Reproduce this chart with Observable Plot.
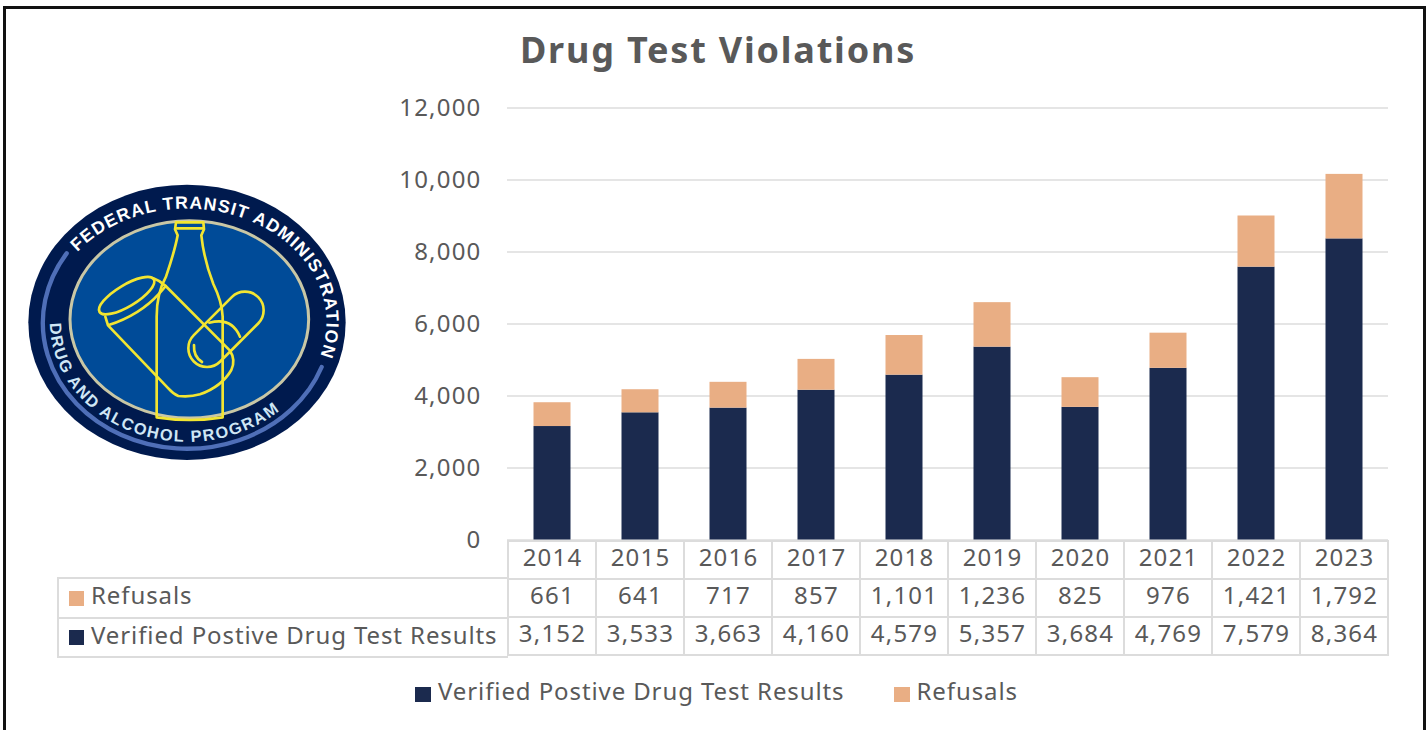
<!DOCTYPE html>
<html>
<head>
<meta charset="utf-8">
<script src="https://cdn.jsdelivr.net/npm/d3@7"></script>
<script src="https://cdn.jsdelivr.net/npm/@observablehq/plot@0.6"></script>
<style>
  html,body{margin:0;padding:0;background:#fff;overflow:hidden}
  #page{position:relative;width:1427px;height:730px;overflow:hidden;font-family:"Noto Sans",sans-serif;color:#595959}
  #border{position:absolute;left:3px;top:6px;width:1417px;height:800px;border:3px solid #111}
  #title{position:absolute;left:0;width:1436px;top:25px;text-align:center;font-size:36px;font-weight:700;line-height:50px;letter-spacing:1.8px}
  #chart,#table{position:absolute;left:0}
  #chart{top:0}
  #table{top:539px}
  #rowhead{position:absolute;left:57px;top:577px;width:449px;height:77px;border:2px solid #dcdcdc;border-right:none;box-sizing:content-box}
  .rh{height:38px;font-size:24px;letter-spacing:.9px;display:flex;align-items:center;padding-left:10px;white-space:nowrap;box-sizing:border-box}
  .rh span:last-child{position:relative;top:-3.5px}
  .rh+.rh{border-top:2px solid #dcdcdc;height:39px}
  .sw{display:inline-block;width:15px;height:15px;margin-right:7px;flex:none}
  #legend{position:absolute;top:673px;left:415px;display:flex;align-items:center;font-size:24px;letter-spacing:.9px;line-height:36px;white-space:nowrap}
  #legend .sw{width:16px;height:15px;position:relative;top:3px}
  svg text{font-family:"Noto Sans",sans-serif;letter-spacing:1.2px}
  #logo #t1{letter-spacing:3.5px}
  #logo #t2{letter-spacing:5px}
</style>
</head>
<body>
<div id="page">
  <div id="border"></div>
  <div id="chart"></div>
  <div id="title">Drug Test Violations</div>
  <svg id="logo" style="position:absolute;left:0;top:160px" width="370" height="320" viewBox="0 0 1110 960">
    <defs>
      <path id="topArc" d="M 232,276 A 418 340 0 0 1 890,696"/>
      <path id="botArc" d="M 150,490 A 411 358 0 0 0 900,690"/>
    </defs>
    <ellipse cx="561" cy="487" rx="476" ry="413" fill="#001a4e"/>
    <path d="M 200,280 A 432 378 0 1 0 965,621" fill="none" stroke="#4f6fb8" stroke-width="13" stroke-linecap="round"/>
    <ellipse cx="568" cy="478" rx="358" ry="296" fill="#004b98" stroke="#c9c7a5" stroke-width="9"/>
    <text id="t1" font-size="53" font-weight="700" fill="#fff" style="font-family:'Liberation Sans',sans-serif"><textPath href="#topArc">FEDERAL TRANSIT ADMINISTRATION</textPath></text>
    <text id="t2" font-size="49" font-weight="700" fill="#cfe6f5" style="font-family:'Liberation Sans',sans-serif"><textPath href="#botArc">DRUG AND ALCOHOL PROGRAM</textPath></text>
    <g fill="none" stroke="#f2e531" stroke-width="8" stroke-linejoin="round" stroke-linecap="round">
      <path d="M528,187 L610,187 L612,208 L604,226 Q612,300 640,372 Q666,425 668,470 L668,772 Q570,788 470,772 L470,470 Q470,400 498,350 Q525,270 533,226 L525,208 Z"/>
      <path d="M530,205 L608,205"/>
      <ellipse cx="380" cy="407" rx="95" ry="32" transform="rotate(-31 380 407)"/>
      <path d="M316,470 L324,496 Q420,465 478,400 Q492,385 497,378 L690,572 Q708,600 694,630 Q665,680 600,703 Q570,712 535,708 Q520,702 505,685 L324,496"/>
      <path d="M460,355 Q480,362 497,378"/>
      <rect x="541.5" y="452" width="273" height="112" rx="56" transform="rotate(-45 678 508)"/>
      <path d="M628,488 Q695,470 720,530"/>
      <path d="M582,555 Q580,590 606,606"/>
    </g>
  </svg>
  <div id="table"></div>
  <div id="rowhead"></div>
  <div id="legend"></div>
</div>
<script>
const years = ["2014","2015","2016","2017","2018","2019","2020","2021","2022","2023"];
const refusals = [661,641,717,857,1101,1236,825,976,1421,1792];
const verified = [3152,3533,3663,4160,4579,5357,3684,4769,7579,8364];
const verifiedName = "Verified Postive Drug Test Results";
const refusalsName = "Refusals";
const yTicks = [0,2000,4000,6000,8000,10000,12000];
const navy = "#1b2a4e", peach = "#e9ae84", grid = "#dcdcdc", ink = "#595959";

const long = years.flatMap((year,i)=>[
  {year, series: verifiedName, value: verified[i]},
  {year, series: refusalsName, value: refusals[i]}
]);

const fmt = d3.format(",");
const chart = Plot.plot({
  width: 1427, height: 540,
  marginLeft: 507, marginRight: 39, marginTop: 107.5, marginBottom: 0.5,
  style: {background:"transparent", overflow:"visible"},
  x: {domain: years, padding: 0, axis: null},
  y: {domain: [0,12000], axis: null},
  color: {domain: [verifiedName, refusalsName], range: [navy, peach]},
  marks: [
    Plot.gridY(yTicks, {stroke: grid, strokeOpacity: 1, strokeWidth: 1.6}),
    Plot.axisY({ticks: yTicks, tickFormat: fmt, tickSize: 0, tickPadding: 26, fontSize: 24, fill: ink, label: null, marginLeft: 507}),
    Plot.barY(long, {x:"year", y:"value", fill:"series", order:[verifiedName, refusalsName], insetLeft: 25.5, insetRight: 25.5})
  ]
});
document.getElementById("chart").append(chart);

const rowKeys = ["year", refusalsName, verifiedName];
const cells = years.flatMap((year,i)=>[
  {year, row: "year", label: year},
  {year, row: refusalsName, label: fmt(refusals[i])},
  {year, row: verifiedName, label: fmt(verified[i])}
]);
const table = Plot.plot({
  width: 1427, height: 118,
  marginLeft: 507, marginRight: 39, marginTop: 1, marginBottom: 1,
  style: {background:"transparent", overflow:"visible"},
  x: {domain: years, padding: 0, axis: null},
  y: {domain: rowKeys, padding: 0, axis: null},
  marks: [
    Plot.cell(cells, {x:"year", y:"row", fill:"none", stroke: grid, strokeWidth: 2}),
    Plot.text(cells, {x:"year", y:"row", text:"label", fontSize: 24, fill: ink, dy: -2.5})
  ]
});
document.getElementById("table").append(table);

const heads = [[refusalsName, peach],[verifiedName, navy]];
d3.select("#rowhead").selectAll("div").data(heads).join("div").attr("class","rh")
  .html(d=>`<span class="sw" style="background:${d[1]}"></span><span>${d[0]}</span>`);
d3.select("#legend").selectAll("div").data([[verifiedName,navy],[refusalsName,peach]]).join("div")
  .style("display","flex").style("align-items","center").style("margin-right","49px")
  .html(d=>`<span class="sw" style="background:${d[1]}"></span><span>${d[0]}</span>`);
</script>
</body>
</html>
